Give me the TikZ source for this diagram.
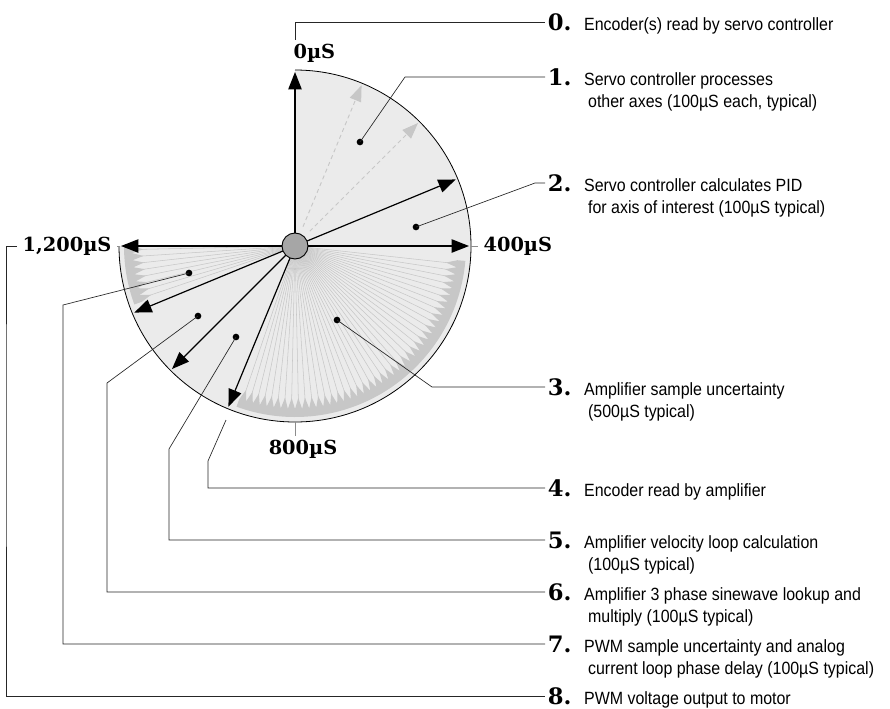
\documentclass[tikz,border=0pt]{standalone}
\usepackage{fontspec}
\setmainfont{Liberation Sans}[FakeStretch=0.9]
\newfontfamily\numfont{DejaVu Serif}
\usetikzlibrary{positioning,arrows.meta,calc}

\begin{document}
\begin{tikzpicture}[
  x=0.75pt, y=0.75pt,
  call/.style={draw=black!85, line width=0.5pt},
  tick/.style={draw=black!45, line width=0.5pt},
  arr/.style={-{Triangle[length=13pt,width=10pt]}, draw=black, line width=0.9pt},
  ghost/.style={-{Triangle[length=12pt,width=9pt]}, draw=black!22, dash pattern=on 3pt off 2.5pt, line width=0.7pt},
  ray/.style={draw=black!22, line width=0.4pt},
  band/.style={fill=black!22},
  dot/.style={circle, fill=black, inner sep=0pt, minimum size=5pt},
  hubdisc/.style={circle, draw=black, line width=0.7pt, fill=black!35, minimum size=19.5pt, inner sep=0pt},
  num/.style={font=\numfont\bfseries\fontsize{17}{17}\selectfont, inner sep=0pt, inner xsep=2pt, anchor=west},
  txt/.style={font=\fontsize{13.3}{16.5}\selectfont, inner sep=0pt, anchor=base west},
  axlbl/.style={font=\numfont\bfseries\fontsize{14.5}{14.5}\selectfont, inner sep=0pt, inner xsep=4pt, inner ysep=3pt}
]
\useasboundingbox (0,0) rectangle (890,-708);

% the cycle, centred on the hub
\begin{scope}[shift={(295,-246)}]
\coordinate (hub) at (0,0);
\fill[black!8] (hub) -- (90:176) arc[start angle=90, end angle=-180, radius=176] -- cycle;
% sample uncertainty rays and saw bands
\foreach \a in {-6.25,-8.75,...,-109} \draw[ray] (hub) -- (\a:155);
\foreach \a in {-161.25,-163.75,...,-179} \draw[ray] (hub) -- (\a:155);
\fill[band] (-5:171) arc[start angle=-5, end angle=-110, radius=171]
  \foreach \a in {-110,-107.5,...,-7} { -- (\a:163) -- (\a+1.25:152) } -- (-5:163) -- cycle;
\fill[band] (-160:171) arc[start angle=-160, end angle=-180, radius=171]
  \foreach \a in {-180,-177.5,...,-162} { -- (\a:163) -- (\a+1.25:152) } -- (-160:163) -- cycle;
\draw[line width=0.6pt] (90:176) arc[start angle=90, end angle=-180, radius=176];
% time marks
\foreach \t/\a in {0/90,100/67.5,200/45,300/22.5,400/0,900/-112.5,1000/-135,1100/-157.5,1200/-180}
  \coordinate (p\t) at (\a:174);
\coordinate (e400) at (0:176);
\coordinate (e800) at (-90:176);
\coordinate (e1200) at (180:176);
\draw[ghost] ($(hub)!0.12!(p100)$) -- (p100);
\draw[ghost] ($(hub)!0.12!(p200)$) -- (p200);
\foreach \t in {0,300,400,900,1000,1100,1200} \draw[arr] (hub) -- (p\t);
\node[hubdisc] (disc) at (hub) {};
% axis labels
\node[axlbl, anchor=west] (t0) at (-7,193) {0µS};
\node[axlbl, anchor=west] (t400) at (183,0) {400µS};
\node[axlbl, anchor=north] (t800) at (8,-190) {800µS};
\node[axlbl, anchor=east] (t1200) at (-178,0) {1,200µS};
\draw[tick] (e400) -- (t400.west);
\draw[tick] (e800) -- (e800 |- t800.north);
\draw[tick] (e1200) -- (t1200.east);
\end{scope}

% legend
\node[num] (n0) at (545,-22) {0.};
\node[num] (n1) at (545,-77) {1.};
\node[num] (n2) at (545,-183) {2.};
\node[num] (n3) at (545,-387) {3.};
\node[num] (n4) at (545,-488) {4.};
\node[num] (n5) at (545,-540) {5.};
\node[num] (n6) at (545,-592) {6.};
\node[num] (n7) at (545,-644) {7.};
\node[num] (n8) at (545,-696) {8.};
\node[txt] (x0) at ([xshift=7pt]n0.base east) {Encoder(s) read by servo controller};
\node[txt] (x1) at ([xshift=7pt]n1.base east) {\begin{tabular}[t]{@{}l@{}}Servo controller processes\\\hspace*{3pt}other axes (100µS each, typical)\end{tabular}};
\node[txt] (x2) at ([xshift=7pt]n2.base east) {\begin{tabular}[t]{@{}l@{}}Servo controller calculates PID\\\hspace*{3pt}for axis of interest (100µS typical)\end{tabular}};
\node[txt] (x3) at ([xshift=7pt]n3.base east) {\begin{tabular}[t]{@{}l@{}}Amplifier sample uncertainty\\\hspace*{3pt}(500µS typical)\end{tabular}};
\node[txt] (x4) at ([xshift=7pt]n4.base east) {Encoder read by amplifier};
\node[txt] (x5) at ([xshift=7pt]n5.base east) {\begin{tabular}[t]{@{}l@{}}Amplifier velocity loop calculation\\\hspace*{3pt}(100µS typical)\end{tabular}};
\node[txt] (x6) at ([xshift=7pt]n6.base east) {\begin{tabular}[t]{@{}l@{}}Amplifier 3 phase sinewave lookup and\\\hspace*{3pt}multiply (100µS typical)\end{tabular}};
\node[txt] (x7) at ([xshift=7pt]n7.base east) {\begin{tabular}[t]{@{}l@{}}PWM sample uncertainty and analog\\\hspace*{3pt}current loop phase delay (100µS typical)\end{tabular}};
\node[txt] (x8) at ([xshift=7pt]n8.base east) {PWM voltage output to motor};

% callouts
\node[dot] (d1) at (360,-142) {};
\node[dot] (d2) at (416,-227) {};
\node[dot] (d3) at (337,-320) {};
\node[dot] (d5) at (236,-337) {};
\node[dot] (d6) at (198,-316) {};
\node[dot] (d7) at (189,-273) {};
\coordinate (k1) at (405,-77);
\coordinate (k2) at (535,-183);
\coordinate (k3) at (432,-387);
\coordinate (s4) at (226,-420);
\coordinate (k4) at (208,-461);
\coordinate (k5) at (169,-449);
\coordinate (k6) at (107,-383);
\coordinate (k7) at (63,-305);
\coordinate (k8) at (6,-400);
\draw[call] (hub |- t0.north) |- (n0.west);
\draw[call] (d1.center) -- (k1) -- (n1.west);
\draw[call] (d2.center) -- (k2) -- (n2.west);
\draw[call] (d3.center) -- (k3) -- (n3.west);
\draw[call] (s4) -- (k4) |- (n4.west);
\draw[call] (d5.center) -- (k5) |- (n5.west);
\draw[call] (d6.center) -- (k6) |- (n6.west);
\draw[call] (d7.center) -- (k7) |- (n7.west);
\draw[call] (t1200.west) -| (k8) |- (n8.west);
\end{tikzpicture}
\end{document}
